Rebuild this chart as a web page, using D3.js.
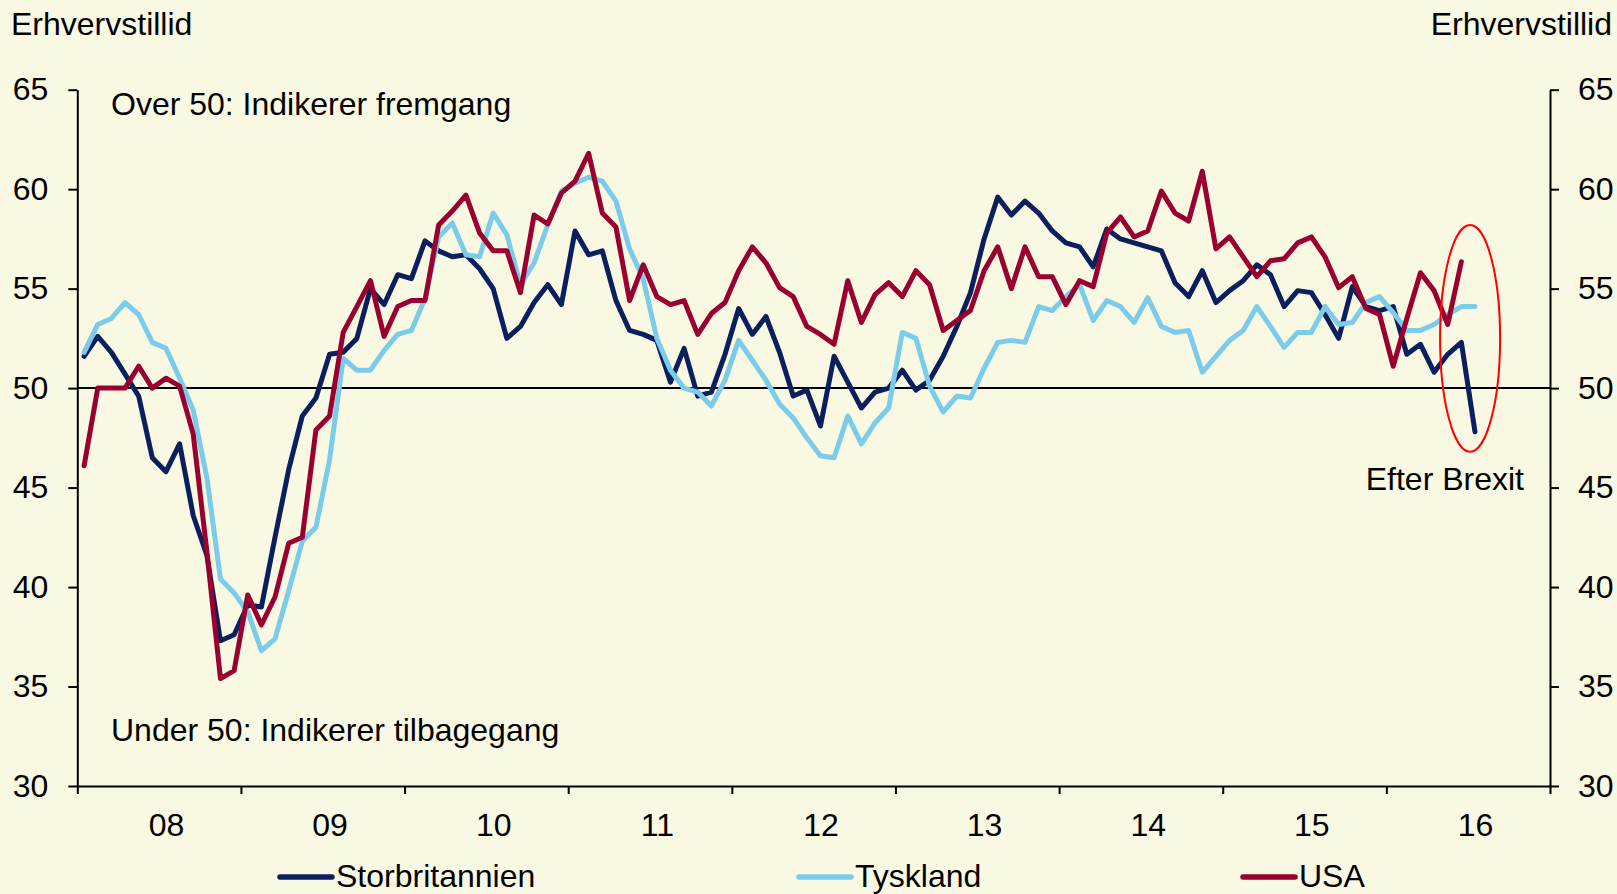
<!DOCTYPE html>
<html lang="da">
<head>
<meta charset="utf-8">
<title>Erhvervstillid</title>
<script src="https://cdn.jsdelivr.net/npm/d3@7"></script>
<style>
  body { margin: 0; background: #f9f8e2; }
  svg text { font-family: "Liberation Sans", Arial, sans-serif; font-size: 32px; fill: #000; }
</style>
</head>
<body>
<script>

// monthly values, Jan 2008 onwards
var uk = [51.6, 52.6, 51.8, 50.7, 49.6, 46.5, 45.8, 47.2, 43.6, 41.6, 37.3, 37.6,
          39.1, 39.0, 42.5, 45.9, 48.6, 49.5, 51.7, 51.8, 52.5, 55.0, 54.2, 55.7,
          55.5, 57.4, 56.9, 56.6, 56.7, 56.0, 55.0, 52.5, 53.1, 54.3, 55.2, 54.2,
          57.9, 56.7, 56.9, 54.4, 52.9, 52.7, 52.4, 50.3, 52.0, 49.6, 49.8, 51.7,
          54.0, 52.7, 53.6, 51.8, 49.6, 49.9, 48.1, 51.6, 50.3, 49.0, 49.8, 50.0,
          50.9, 49.9, 50.4, 51.6, 53.1, 54.8, 57.5, 59.6, 58.7, 59.4, 58.8, 57.9,
          57.3, 57.1, 56.1, 58.0, 57.5, 57.3, 57.1, 56.9, 55.3, 54.6, 55.9, 54.3,
          54.9, 55.4, 56.2, 55.7, 54.1, 54.9, 54.8, 53.7, 52.5, 55.1, 54.1, 53.9,
          54.1, 51.7, 52.2, 50.8, 51.7, 52.3, 47.8];

var tyskland = [51.8, 53.2, 53.5, 54.3, 53.7, 52.3, 52.0, 50.5, 48.9, 45.5, 40.4, 39.7,
                38.75, 36.8, 37.4, 39.8, 42.3, 43.0, 46.4, 51.5, 50.9, 50.9, 51.9, 52.7,
                52.9, 54.5, 57.6, 58.3, 56.7, 56.6, 58.8, 57.7, 55.2, 56.3, 58.2, 59.9,
                60.3, 60.6, 60.4, 59.4, 57.0, 55.5, 52.5, 50.9, 50.0, 49.8, 49.1, 50.4,
                52.4, 51.4, 50.4, 49.2, 48.5, 47.5, 46.6, 46.5, 48.6, 47.2, 48.25, 49.0,
                52.8, 52.5, 50.1, 48.8, 49.6, 49.5, 51.0, 52.3, 52.4, 52.3, 54.1, 53.9,
                54.6, 55.2, 53.4, 54.4, 54.1, 53.3, 54.55, 53.1, 52.8, 52.9, 50.8, 51.6,
                52.4, 52.9, 54.1, 53.1, 52.05, 52.8, 52.8, 54.1, 53.2, 53.3, 54.3, 54.6,
                53.8, 52.9, 52.9, 53.2, 53.7, 54.1, 54.1];

var usa = [46.1, 50.0, 50.0, 50.0, 51.1, 50.0, 50.5, 50.1, 47.7, 41.8, 35.4, 35.8,
           39.6, 38.1, 39.5, 42.2, 42.5, 47.9, 48.6, 52.8, 54.1, 55.4, 52.6, 54.1,
           54.4, 54.4, 58.2, 58.9, 59.7, 57.8, 56.9, 56.9, 54.8, 58.7, 58.25, 59.8,
           60.4, 61.8, 58.8, 58.1, 54.4, 56.2, 54.6, 54.2, 54.4, 52.7, 53.75, 54.3,
           55.9, 57.1, 56.3, 55.05, 54.6, 53.1, 52.7, 52.2, 55.4, 53.3, 54.7, 55.3,
           54.6, 55.9, 55.2, 52.9, 53.4, 53.9, 55.9, 57.1, 55.0, 57.1, 55.6, 55.6,
           54.2, 55.4, 55.1, 57.8, 58.6, 57.6, 57.9, 59.9, 58.8, 58.4, 60.9, 57.0,
           57.6, 56.6, 55.6, 56.4, 56.5, 57.3, 57.6, 56.6, 55.05, 55.6, 54.0, 53.7,
           51.1, 53.5, 55.8, 54.9, 53.2, 56.35];

var years = ["08", "09", "10", "11", "12", "13", "14", "15", "16"];
var yTicks = [30, 35, 40, 45, 50, 55, 60, 65];
var names = ["Storbritannien", "Tyskland", "USA"];
var colors = ["#0b1f5e", "#7bcbea", "#990030"];

var w = 1617, h = 894;
var plotL = 77.3, plotR = 1550, plotT = 89.7, plotB = 786;
var nMonths = years.length * 12;

var svg = d3.select("body").append("svg")
    .attr("width", w)
    .attr("height", h);

svg.append("rect")
    .attr("width", w)
    .attr("height", h)
    .attr("fill", "#f9f8e2");

// scales: month i sits in the middle of its slot
var xScale = d3.scaleLinear().domain([0, nMonths]).range([plotL, plotR]);
var yScale = d3.scaleLinear().domain([30, 65]).range([plotB, plotT]);

// 50 line
svg.append("line")
    .attr("x1", xScale(0))
    .attr("x2", xScale(nMonths))
    .attr("y1", yScale(50))
    .attr("y2", yScale(50))
    .attr("stroke", "#000")
    .attr("stroke-width", 2);

// axes
var yLeft = d3.axisLeft(yScale).tickValues(yTicks).tickSize(9).tickSizeOuter(0).tickPadding(20);
var yRight = d3.axisRight(yScale).tickValues(yTicks).tickSize(9).tickSizeOuter(0).tickPadding(19);
var xTicks = d3.axisBottom(xScale).tickValues(d3.range(0, nMonths + 1, 12))
    .tickSize(8).tickSizeOuter(0).tickFormat("");
var xLabels = d3.axisBottom(xScale).tickValues(years.map(function(d, i) { return i * 12 + 6.5; }))
    .tickSize(0).tickPadding(27).tickFormat(function(d, i) { return years[i]; });

function styleAxis(g) {
    g.attr("color", "#000");
    g.selectAll("path, line").attr("stroke-width", 2);
}

svg.append("g").attr("transform", "translate(" + plotL + ",0)").call(yLeft).call(styleAxis);
svg.append("g").attr("transform", "translate(" + plotR + ",0)").call(yRight).call(styleAxis);
svg.append("g").attr("transform", "translate(0," + plotB + ")").call(xTicks).call(styleAxis);
var xl = svg.append("g").attr("transform", "translate(0," + plotB + ")").call(xLabels);
xl.select(".domain").remove();

// series
var line = d3.line()
    .x(function(d, i) { return xScale(i + 0.5); })
    .y(function(d) { return yScale(d); });

[uk, tyskland, usa].forEach(function(s, k) {
    svg.append("path")
        .datum(s)
        .attr("d", line)
        .attr("fill", "none")
        .attr("stroke", colors[k])
        .attr("stroke-width", 5)
        .attr("stroke-linejoin", "round")
        .attr("stroke-linecap", "round");
});

// brexit ellipse
svg.append("ellipse")
    .attr("cx", xScale(102.14))
    .attr("cy", yScale(52.5))
    .attr("rx", (xScale(104.34) - xScale(99.94)) / 2)
    .attr("ry", (yScale(46.8) - yScale(58.2)) / 2)
    .attr("fill", "none")
    .attr("stroke", "#ff0000")
    .attr("stroke-width", 2);

// texts
svg.append("text").attr("x", 11).attr("y", 35).text("Erhvervstillid");
svg.append("text").attr("x", 1612).attr("y", 35).attr("text-anchor", "end").text("Erhvervstillid");
svg.append("text").attr("x", 111).attr("y", 115).text("Over 50: Indikerer fremgang");
svg.append("text").attr("x", 111).attr("y", 741).text("Under 50: Indikerer tilbagegang");
svg.append("text").attr("x", 1524).attr("y", 490).attr("text-anchor", "end").text("Efter Brexit");

// legend
var legendX = [280, 799, 1243];
var lg = svg.selectAll(".legend")
    .data(names)
    .enter()
    .append("g")
    .attr("class", "legend")
    .attr("transform", function(d, i) { return "translate(" + legendX[i] + ",877)"; });

lg.append("line")
    .attr("x1", 0).attr("x2", 52)
    .attr("stroke", function(d, i) { return colors[i]; })
    .attr("stroke-width", 5.5)
    .attr("stroke-linecap", "round");

lg.append("text")
    .attr("x", 56)
    .attr("y", 10)
    .text(function(d) { return d; });

</script>
</body>
</html>
